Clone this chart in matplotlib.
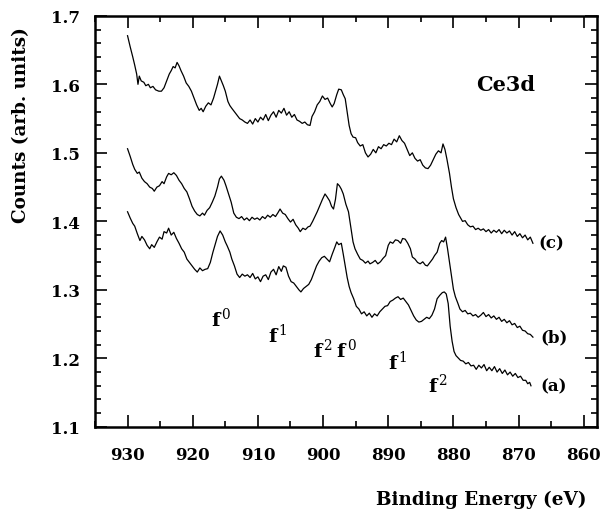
import numpy as np
import matplotlib
matplotlib.use('Agg')
import matplotlib.pyplot as plt
from matplotlib.ticker import MultipleLocator, FormatStrFormatter

plt.rcParams['font.family'] = ['DejaVu Serif']
plt.rcParams['font.weight'] = 'bold'
plt.rcParams['mathtext.fontset'] = 'custom'
plt.rcParams['mathtext.rm'] = 'DejaVu Serif:normal'
plt.rcParams['mathtext.bf'] = 'DejaVu Serif:bold'
plt.rcParams['mathtext.default'] = 'rm'

# Ce3d spectra (binding energy, counts)
c_data = [
    (930.0, 1.671), (929.6, 1.655), (929.2, 1.640), (928.9, 1.628), (928.6, 1.615), (928.4, 1.600),
    (928.2, 1.612), (927.9, 1.605), (927.5, 1.603), (927.2, 1.598), (926.8, 1.600), (926.5, 1.595),
    (926.1, 1.597), (925.7, 1.592), (925.2, 1.590), (924.8, 1.590), (924.4, 1.595), (924.0, 1.605),
    (923.6, 1.615), (923.3, 1.620), (923.0, 1.626), (922.7, 1.624), (922.4, 1.632), (922.1, 1.627),
    (921.8, 1.620), (921.4, 1.612), (921.0, 1.602), (920.6, 1.597), (920.2, 1.590), (919.8, 1.580),
    (919.4, 1.570), (919.0, 1.562), (918.7, 1.565), (918.4, 1.560), (918.0, 1.568), (917.6, 1.573),
    (917.2, 1.570), (916.8, 1.580), (916.5, 1.590), (916.2, 1.600), (915.9, 1.612), (915.6, 1.605),
    (915.3, 1.598), (915.0, 1.590), (914.6, 1.575), (914.3, 1.569), (914.0, 1.565), (913.6, 1.560),
    (913.2, 1.555), (912.8, 1.550), (912.4, 1.548), (912.0, 1.545), (911.6, 1.543), (911.2, 1.548),
    (910.8, 1.542), (910.4, 1.550), (910.0, 1.545), (909.6, 1.552), (909.2, 1.548), (908.8, 1.556),
    (908.4, 1.547), (908.0, 1.555), (907.6, 1.560), (907.2, 1.552), (906.8, 1.562), (906.4, 1.558),
    (906.0, 1.565), (905.6, 1.555), (905.2, 1.560), (904.8, 1.552), (904.4, 1.556), (904.0, 1.548),
    (903.6, 1.546), (903.2, 1.543), (902.8, 1.545), (902.4, 1.541), (902.0, 1.540), (901.7, 1.553),
    (901.3, 1.560), (900.9, 1.570), (900.5, 1.575), (900.1, 1.583), (899.7, 1.578), (899.3, 1.580),
    (898.9, 1.572), (898.6, 1.567), (898.3, 1.572), (897.9, 1.585), (897.6, 1.593), (897.2, 1.592),
    (896.9, 1.585), (896.6, 1.579), (896.3, 1.560), (896.0, 1.540), (895.7, 1.528), (895.4, 1.523),
    (895.0, 1.522), (894.7, 1.515), (894.3, 1.510), (893.9, 1.512), (893.5, 1.500), (893.1, 1.494),
    (892.7, 1.498), (892.3, 1.505), (891.9, 1.500), (891.5, 1.509), (891.1, 1.506), (890.7, 1.512),
    (890.3, 1.510), (889.9, 1.514), (889.5, 1.512), (889.1, 1.520), (888.7, 1.516), (888.3, 1.525),
    (887.9, 1.518), (887.5, 1.514), (887.1, 1.505), (886.7, 1.496), (886.3, 1.500), (885.9, 1.492),
    (885.5, 1.488), (885.1, 1.490), (884.7, 1.482), (884.3, 1.478), (883.9, 1.477), (883.5, 1.482),
    (883.1, 1.490), (882.7, 1.498), (882.3, 1.503), (881.9, 1.500), (881.6, 1.513), (881.3, 1.505),
    (881.0, 1.491), (880.6, 1.470), (880.3, 1.450), (880.0, 1.433), (879.6, 1.420), (879.2, 1.410),
    (878.9, 1.405), (878.6, 1.400), (878.2, 1.401), (877.8, 1.395), (877.4, 1.392), (877.0, 1.393),
    (876.6, 1.388), (876.2, 1.390), (875.8, 1.387), (875.4, 1.389), (875.0, 1.385), (874.6, 1.388),
    (874.2, 1.383), (873.8, 1.387), (873.4, 1.384), (873.0, 1.388), (872.6, 1.382), (872.2, 1.387),
    (871.8, 1.383), (871.4, 1.386), (871.0, 1.380), (870.6, 1.385), (870.2, 1.378), (869.8, 1.382),
    (869.4, 1.376), (869.0, 1.380), (868.6, 1.373), (868.2, 1.377), (867.8, 1.368),
]

b_data = [
    (930.0, 1.506), (929.6, 1.495), (929.2, 1.483), (928.9, 1.476), (928.5, 1.470), (928.2, 1.472),
    (927.8, 1.463), (927.4, 1.458), (927.0, 1.455), (926.6, 1.450), (926.2, 1.448), (925.9, 1.444),
    (925.5, 1.450), (925.1, 1.452), (924.7, 1.458), (924.4, 1.455), (924.0, 1.465), (923.7, 1.470),
    (923.3, 1.468), (922.9, 1.471), (922.5, 1.467), (922.1, 1.460), (921.7, 1.455), (921.3, 1.448),
    (920.9, 1.443), (920.5, 1.433), (920.1, 1.422), (919.7, 1.415), (919.3, 1.410), (918.9, 1.408),
    (918.5, 1.412), (918.2, 1.409), (917.8, 1.416), (917.4, 1.420), (917.0, 1.428), (916.6, 1.437),
    (916.2, 1.450), (915.9, 1.462), (915.6, 1.466), (915.2, 1.460), (914.9, 1.452), (914.5, 1.440),
    (914.1, 1.428), (913.7, 1.412), (913.3, 1.406), (912.9, 1.404), (912.5, 1.407), (912.1, 1.402),
    (911.7, 1.405), (911.3, 1.401), (910.9, 1.406), (910.5, 1.403), (910.1, 1.405), (909.7, 1.402),
    (909.3, 1.407), (908.9, 1.404), (908.5, 1.409), (908.1, 1.406), (907.7, 1.410), (907.3, 1.407),
    (906.9, 1.413), (906.6, 1.418), (906.2, 1.412), (905.8, 1.410), (905.4, 1.404), (905.0, 1.399),
    (904.6, 1.403), (904.2, 1.395), (903.8, 1.390), (903.5, 1.385), (903.1, 1.390), (902.7, 1.388),
    (902.3, 1.392), (902.0, 1.393), (901.6, 1.400), (901.2, 1.408), (900.9, 1.414), (900.5, 1.423),
    (900.1, 1.432), (899.7, 1.440), (899.4, 1.436), (899.0, 1.430), (898.7, 1.422), (898.4, 1.418),
    (898.1, 1.432), (897.8, 1.455), (897.5, 1.452), (897.2, 1.447), (896.9, 1.440), (896.5, 1.425),
    (896.1, 1.414), (895.8, 1.395), (895.4, 1.370), (895.1, 1.360), (894.7, 1.352), (894.3, 1.345),
    (893.9, 1.343), (893.5, 1.339), (893.1, 1.342), (892.8, 1.338), (892.4, 1.340), (892.0, 1.343),
    (891.6, 1.338), (891.2, 1.341), (890.8, 1.346), (890.4, 1.350), (890.0, 1.365), (889.7, 1.370),
    (889.3, 1.368), (888.9, 1.373), (888.5, 1.372), (888.1, 1.368), (887.8, 1.375), (887.4, 1.374),
    (887.0, 1.368), (886.6, 1.360), (886.3, 1.348), (885.9, 1.345), (885.5, 1.340), (885.1, 1.338),
    (884.7, 1.341), (884.3, 1.336), (884.0, 1.335), (883.6, 1.340), (883.2, 1.345), (882.9, 1.350),
    (882.5, 1.355), (882.1, 1.368), (881.8, 1.372), (881.5, 1.370), (881.2, 1.377), (880.9, 1.360),
    (880.6, 1.340), (880.3, 1.320), (880.0, 1.301), (879.7, 1.290), (879.3, 1.280), (879.0, 1.272),
    (878.6, 1.268), (878.2, 1.270), (877.8, 1.265), (877.4, 1.266), (877.0, 1.262), (876.6, 1.264),
    (876.2, 1.260), (875.8, 1.263), (875.4, 1.267), (875.0, 1.261), (874.6, 1.264), (874.2, 1.259),
    (873.8, 1.262), (873.4, 1.257), (873.0, 1.260), (872.6, 1.254), (872.2, 1.257), (871.8, 1.252),
    (871.4, 1.255), (871.0, 1.249), (870.6, 1.251), (870.2, 1.245), (869.8, 1.247), (869.4, 1.241),
    (869.0, 1.240), (868.6, 1.236), (868.2, 1.235), (867.8, 1.231),
]

a_data = [
    (930.0, 1.414), (929.6, 1.405), (929.2, 1.397), (928.9, 1.393), (928.5, 1.382), (928.1, 1.372),
    (927.8, 1.378), (927.4, 1.373), (927.0, 1.365), (926.6, 1.360), (926.3, 1.366), (925.9, 1.362),
    (925.5, 1.370), (925.1, 1.377), (924.7, 1.374), (924.4, 1.385), (924.0, 1.383), (923.7, 1.390),
    (923.3, 1.380), (922.9, 1.384), (922.5, 1.375), (922.1, 1.368), (921.7, 1.360), (921.3, 1.355),
    (920.9, 1.345), (920.5, 1.340), (920.1, 1.335), (919.7, 1.330), (919.3, 1.326), (918.9, 1.332),
    (918.5, 1.328), (918.1, 1.330), (917.7, 1.331), (917.3, 1.340), (916.9, 1.355), (916.5, 1.368),
    (916.2, 1.378), (915.8, 1.386), (915.4, 1.380), (915.0, 1.370), (914.7, 1.364), (914.3, 1.355),
    (914.0, 1.345), (913.6, 1.335), (913.2, 1.323), (912.8, 1.318), (912.4, 1.323), (912.0, 1.320),
    (911.6, 1.322), (911.2, 1.318), (910.8, 1.324), (910.4, 1.316), (910.0, 1.319), (909.6, 1.312),
    (909.2, 1.320), (908.8, 1.322), (908.4, 1.315), (908.0, 1.326), (907.6, 1.330), (907.2, 1.322),
    (906.8, 1.334), (906.4, 1.327), (906.1, 1.335), (905.7, 1.333), (905.3, 1.320), (904.9, 1.312),
    (904.5, 1.310), (904.1, 1.305), (903.7, 1.300), (903.4, 1.297), (903.0, 1.302), (902.6, 1.305),
    (902.2, 1.308), (901.8, 1.315), (901.4, 1.325), (901.0, 1.335), (900.6, 1.342), (900.2, 1.347),
    (899.8, 1.349), (899.4, 1.345), (899.0, 1.341), (898.6, 1.352), (898.2, 1.362), (897.9, 1.370),
    (897.6, 1.366), (897.2, 1.368), (896.9, 1.352), (896.6, 1.335), (896.3, 1.318), (896.0, 1.305),
    (895.7, 1.296), (895.3, 1.287), (894.9, 1.276), (894.5, 1.272), (894.1, 1.265), (893.7, 1.268),
    (893.3, 1.262), (892.9, 1.266), (892.5, 1.260), (892.1, 1.265), (891.7, 1.262), (891.3, 1.268),
    (890.9, 1.272), (890.5, 1.276), (890.1, 1.277), (889.7, 1.283), (889.3, 1.285), (888.9, 1.288),
    (888.5, 1.290), (888.1, 1.286), (887.7, 1.288), (887.3, 1.283), (886.9, 1.278), (886.5, 1.270),
    (886.1, 1.262), (885.7, 1.256), (885.3, 1.253), (884.9, 1.254), (884.5, 1.257), (884.1, 1.260),
    (883.7, 1.258), (883.3, 1.263), (882.9, 1.272), (882.5, 1.287), (882.1, 1.292), (881.7, 1.296),
    (881.4, 1.297), (881.1, 1.294), (880.8, 1.280), (880.5, 1.247), (880.2, 1.225), (879.9, 1.210),
    (879.6, 1.204), (879.2, 1.200), (878.9, 1.197), (878.5, 1.196), (878.1, 1.192), (877.7, 1.194),
    (877.3, 1.189), (876.9, 1.190), (876.5, 1.184), (876.1, 1.190), (875.7, 1.186), (875.3, 1.191),
    (874.9, 1.182), (874.5, 1.187), (874.1, 1.182), (873.7, 1.188), (873.3, 1.180), (872.9, 1.185),
    (872.5, 1.178), (872.1, 1.183), (871.7, 1.176), (871.3, 1.180), (870.9, 1.174), (870.5, 1.178),
    (870.1, 1.172), (869.7, 1.174), (869.3, 1.168), (868.9, 1.168), (868.6, 1.163), (868.3, 1.165),
    (868.1, 1.160),
]

curve_labels = ['(c)', '(b)', '(a)']
curve_label_pos = [(866.9, 1.368), (866.6, 1.231), (866.6, 1.160)]

peak_labels = [r'$\mathbf{f}^{\,0}$', r'$\mathbf{f}^{\,1}$', r'$\mathbf{f}^{\,2}\,\mathbf{f}^{\,0}$',
               r'$\mathbf{f}^{\,1}$', r'$\mathbf{f}^{\,2}$']
peak_pos = [(915.6, 1.258), (906.9, 1.236), (898.1, 1.214), (888.5, 1.196), (882.3, 1.163)]

fig = plt.figure(figsize=(6.01, 5.10), dpi=100)
ax = fig.add_axes([0.158, 0.161, 0.835, 0.806])

for data in [c_data, b_data, a_data]:
    arr = np.array(data)
    ax.plot(arr[:, 0], arr[:, 1], color='black', lw=0.9)

ax.set_xlim(935, 858)
ax.set_ylim(1.1, 1.7)
ax.xaxis.set_major_locator(MultipleLocator(10))
ax.xaxis.set_minor_locator(MultipleLocator(5))
ax.yaxis.set_major_locator(MultipleLocator(0.1))
ax.yaxis.set_minor_locator(MultipleLocator(0.02))
ax.tick_params(which='both', direction='in', top=True, right=True, width=1.2)
ax.tick_params(which='major', length=8.5, labelsize=12)
ax.tick_params(axis='x', which='major', pad=14)
ax.tick_params(axis='y', which='major', pad=10.5)
ax.tick_params(which='minor', length=4)
ax.yaxis.set_major_formatter(FormatStrFormatter('%.1f'))
for s in ax.spines.values():
    s.set_linewidth(1.8)

ax.set_ylabel('Counts (arb. units)', fontsize=13.2, fontweight='bold')
ax.yaxis.set_label_coords(-0.13, 0.737)
ax.set_xlabel('Binding Energy (eV)', fontsize=13.2, fontweight='bold', ha='right', va='baseline')
ax.xaxis.set_label_coords(0.98, -0.187)

ax.text(872.0, 1.6, 'Ce3d', fontsize=15, ha='center', va='center')
for lab, (x, y) in zip(curve_labels, curve_label_pos):
    ax.text(x, y, lab, fontsize=12, ha='left', va='center')
for lab, (x, y) in zip(peak_labels, peak_pos):
    ax.text(x, y, lab, fontsize=14, ha='center', va='center')

fig.savefig('out.png', dpi=100)
